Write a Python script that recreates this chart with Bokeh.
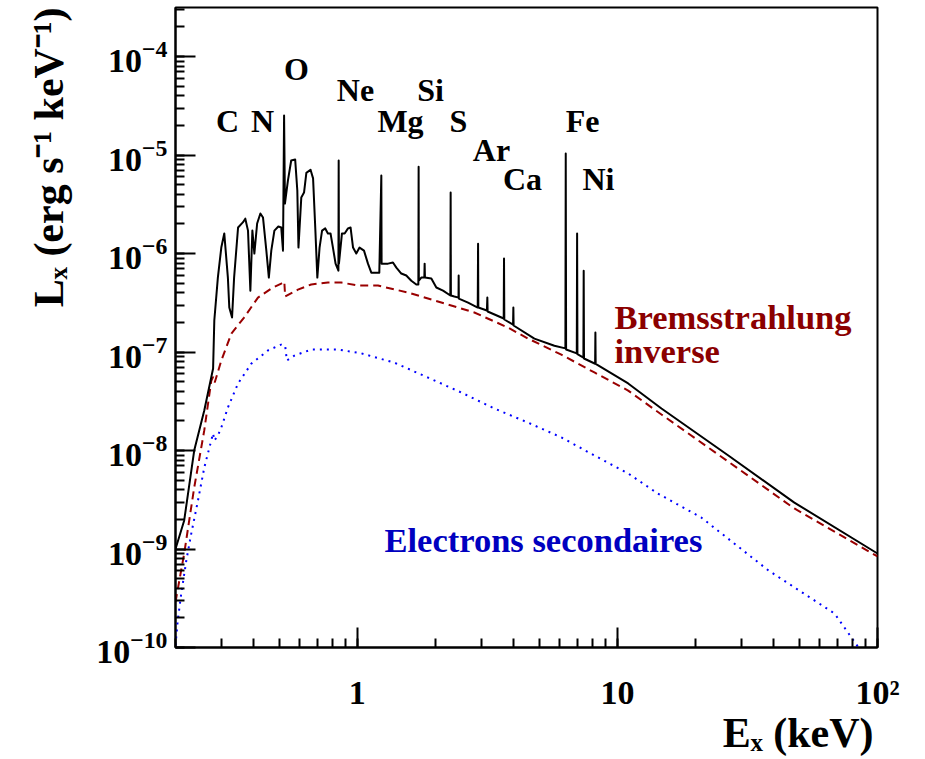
import math
from bokeh.plotting import figure
from bokeh.models import (Range1d, LogTicker, Label, CustomJSTickFormatter,
                          LogTickFormatter, Title)
from bokeh.embed import file_html
from bokeh.resources import INLINE

# ---------------- data ----------------
# total spectrum (continuum + lines)
E_total = [0.200, 0.216, 0.236, 0.258, 0.279, 0.282, 0.291, 0.300, 0.308, 0.318,
           0.322, 0.330, 0.336, 0.348, 0.363, 0.371, 0.380, 0.388, 0.395, 0.402,
           0.412, 0.424, 0.434, 0.447, 0.457, 0.467, 0.480, 0.497, 0.510, 0.518,
           0.523, 0.527, 0.541, 0.557, 0.577, 0.588, 0.594, 0.609, 0.624, 0.637,
           0.661, 0.676, 0.690, 0.702, 0.716, 0.732, 0.753, 0.771, 0.789, 0.806,
           0.825, 0.846, 0.848, 0.850, 0.873, 0.894, 0.921, 0.942, 0.963, 0.991,
           1.020, 1.061, 1.099, 1.132, 1.215, 1.237, 1.240, 1.255, 1.313, 1.371,
           1.413, 1.476, 1.543, 1.613, 1.686, 1.717, 1.721, 1.724, 1.762, 1.810,
           1.815, 1.820, 1.926, 2.013, 2.136, 2.279, 2.285, 2.290, 2.361, 2.450,
           2.453, 2.457, 2.666, 2.904, 2.913, 2.920, 3.150, 3.162, 3.170, 3.655,
           3.665, 3.675, 3.970, 3.981, 3.990, 4.795, 5.725, 6.310, 6.330, 6.350,
           6.980, 7.000, 7.020, 7.400, 7.420, 7.440, 8.210, 8.230, 8.250, 11.0,
           14.77, 26.7, 47.9, 100.0]
L_total = [1.0e-9, 1.95e-9, 1.0e-8, 2.55e-8, 6.8e-8, 2.09e-7, 5.7e-7, 1.15e-6, 1.6e-6, 5.7e-7,
           2.83e-7, 2.24e-7, 5.7e-7, 1.84e-6, 2.07e-6, 2.26e-6, 1.71e-6, 4.2e-7, 1.71e-6, 1.0e-6,
           2.02e-6, 2.55e-6, 2.32e-6, 1.07e-6, 5.7e-7, 1.07e-6, 1.71e-6, 1.88e-6, 1.84e-6, 1.07e-6,
           2.52e-5, 3.22e-6, 5.5e-6, 8.8e-6, 9.0e-6, 4.37e-6, 1.15e-6, 3.7e-6, 4.16e-6, 6.6e-6,
           7.1e-6, 5.8e-6, 1.71e-6, 5.7e-7, 1.15e-6, 1.71e-6, 1.8e-6, 1.6e-6, 1.6e-6, 1.15e-6,
           7.9e-7, 6.7e-7, 8.8e-6, 7.9e-7, 1.6e-6, 1.6e-6, 1.8e-6, 1.84e-6, 1.15e-6, 1.0e-6,
           1.15e-6, 1.07e-6, 7.9e-7, 6.4e-7, 6.4e-7, 6.2e-6, 7.9e-7, 7.9e-7, 7.9e-7, 8.1e-7,
           7.2e-7, 6.27e-7, 5.98e-7, 5.3e-7, 4.85e-7, 4.85e-7, 7.6e-6, 5.3e-7, 5.7e-7, 5.7e-7,
           7.9e-7, 5.7e-7, 5.57e-7, 4.52e-7, 4.2e-7, 3.75e-7, 4.16e-6, 3.75e-7, 3.66e-7, 3.57e-7,
           5.98e-7, 3.49e-7, 3.18e-7, 2.83e-7, 1.26e-6, 2.83e-7, 2.64e-7, 3.57e-7, 2.58e-7, 2.19e-7,
           8.9e-7, 2.14e-7, 1.9e-7, 2.83e-7, 1.86e-7, 1.37e-7, 1.16e-7, 1.09e-7, 1.04e-5, 1.06e-7,
           9.7e-8, 1.6e-6, 9.5e-8, 8.8e-8, 6.7e-7, 8.6e-8, 7.6e-8, 1.58e-7, 7.6e-8, 4.8e-8,
           2.67e-8, 8.9e-9, 2.96e-9, 9.0e-10]

# inverse bremsstrahlung
E_brem = [0.200, 0.216, 0.236, 0.258, 0.2745, 0.279, 0.283, 0.300, 0.328, 0.367,
          0.415, 0.467, 0.510, 0.524, 0.528, 0.591, 0.665, 0.771, 0.868, 1.006,
          1.201, 1.567, 2.104, 2.818, 3.80, 4.535, 6.09, 8.16, 11.0, 14.77,
          26.7, 47.9, 100.0]
L_brem = [2.9e-10, 9.0e-10, 4.2e-9, 1.6e-8, 5.1e-8, 5.6e-8, 4.9e-8, 8.2e-8, 1.54e-7, 2.24e-7,
          3.57e-7, 4.42e-7, 4.96e-7, 5.2e-7, 3.66e-7, 4.3e-7, 4.85e-7, 5.08e-7, 5.08e-7, 4.73e-7,
          4.73e-7, 4.02e-7, 3.18e-7, 2.52e-7, 1.77e-7, 1.37e-7, 9.4e-8, 6.2e-8, 4.06e-8, 2.32e-8,
          7.7e-9, 2.58e-9, 8.4e-10]

# secondary electrons
E_sec = [0.200, 0.204, 0.2105, 0.220, 0.230, 0.244, 0.258, 0.270, 0.279, 0.282,
         0.291, 0.300, 0.318, 0.348, 0.391, 0.454, 0.510, 0.528, 0.536, 0.573,
         0.665, 0.843, 1.036, 1.388, 1.871, 2.512, 3.365, 4.535, 6.09, 8.16,
         11.0, 14.3, 21.0, 38.1, 68.4, 84.5]
L_sec = [1.05e-10, 1.88e-10, 3.53e-10, 7.6e-10, 1.44e-9, 3.1e-9, 6.7e-9, 1.07e-8, 1.49e-8, 1.26e-8,
         1.42e-8, 1.71e-8, 2.73e-8, 4.8e-8, 7.6e-8, 1.04e-7, 1.19e-7, 1.16e-7, 8.2e-8, 9.2e-8,
         1.06e-7, 1.06e-7, 9.7e-8, 7.8e-8, 5.5e-8, 3.88e-8, 2.67e-8, 1.92e-8, 1.36e-8, 8.9e-9,
         5.85e-9, 3.66e-9, 2.09e-9, 6.05e-10, 2.21e-10, 1.0e-10]

# axes
X_START, X_END = 0.2, 100.0
Y_START, Y_END = 1e-10, 3.15e-4
x_label_values = [1.0, 10.0, 100.0]
x_label_texts = ["1", "10", "10\u00b2"]
x_title = "E\u2093 (keV)"
y_title = "L\u2093 (erg s\u207b\u00b9 keV\u207b\u00b9)"

# element line labels (text, centre x px, centre y px)
line_labels = [("C", 227, 121), ("N", 262, 121), ("O", 296, 69), ("Ne", 355, 90),
               ("Mg", 400, 121), ("Si", 430, 90), ("S", 458, 121), ("Ar", 491, 150),
               ("Ca", 522, 179), ("Fe", 582, 121), ("Ni", 598, 179)]

FONT = "Liberation Serif"
FRAME_L, FRAME_B = 175, 647
RED = "#990000"
BLUE = "#0000ff"

p = figure(width=925, height=759, x_axis_type="log", y_axis_type="log",
           x_range=Range1d(X_START, X_END), y_range=Range1d(Y_START, Y_END),
           output_backend="svg", toolbar_location=None,
           min_border_left=175, min_border_right=48, min_border_top=7, min_border_bottom=112)
p.background_fill_color = "white"
p.border_fill_color = "white"
p.xgrid.grid_line_color = None
p.ygrid.grid_line_color = None
p.outline_line_color = "black"
p.outline_line_width = 2
p.outline_line_alpha = 1.0

xa = p.xaxis[0]
ya = p.yaxis[0]
xa.formatter = CustomJSTickFormatter(
    args=dict(vals=x_label_values, texts=x_label_texts),
    code="for (let i = 0; i < vals.length; i++) { if (Math.abs(vals[i] - tick) < 1e-6 * vals[i]) return texts[i]; } return '';")
ya.formatter = LogTickFormatter()

for ax in (xa, ya):
    ax.ticker = LogTicker(num_minor_ticks=10)
    ax.major_tick_in = 20
    ax.major_tick_out = 0
    ax.minor_tick_in = 9
    ax.minor_tick_out = 0
    ax.axis_line_width = 2
    ax.major_tick_line_width = 2
    ax.minor_tick_line_width = 2
    ax.axis_line_color = "black"
    ax.major_label_text_font = FONT
    ax.major_label_text_font_style = "bold"
    ax.major_label_text_font_size = "34px"
    ax.major_label_text_color = "black"

xa.major_label_standoff = 26
ya.major_label_standoff = 8

# axis titles (right / top aligned as in the reference)
p.add_layout(Title(text=x_title, align="right", offset=4, standoff=-8, vertical_align="top",
                   text_font=FONT, text_font_style="bold", text_font_size="42px",
                   text_color="black"), "below")
p.add_layout(Title(text=y_title, align="right", offset=0, standoff=44, vertical_align="bottom",
                   text_font=FONT, text_font_style="bold", text_font_size="42px",
                   text_color="black"), "left")

p.line(E_sec, L_sec, line_color=BLUE, line_width=2, line_dash="2 5")
p.line(E_brem, L_brem, line_color=RED, line_width=2, line_dash="8 5")
p.line(E_total, L_total, line_color="black", line_width=2, line_join="round")


def slab(text, px, py, size, color="black", align="left"):
    # px, py: screen position (text centre line) relative to the canvas
    p.add_layout(Label(x=X_START, y=Y_START, x_offset=px - FRAME_L, y_offset=FRAME_B - py,
                       text=text, text_font=FONT, text_font_style="bold",
                       text_font_size=f"{size}px", text_color=color,
                       text_align=align, text_baseline="alphabetic"))


for t, cx, cy in line_labels:
    slab(t, cx, cy - 1, 32, align="center")

slab("Bremsstrahlung", 614, 316, 34.5, color="#8b0000")
slab("inverse", 614, 350, 34.5, color="#8b0000")
slab("Electrons secondaires", 384, 539, 34.5, color="#0000c0")

open("out.html", "w").write(file_html(p, INLINE))
